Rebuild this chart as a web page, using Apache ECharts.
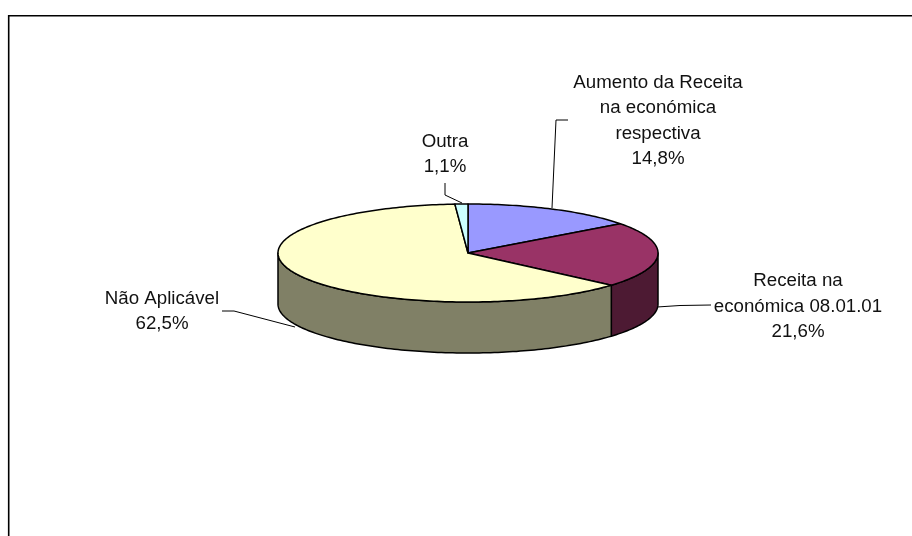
<!DOCTYPE html>
<html><head><meta charset="utf-8">
<style>html,body{margin:0;padding:0;background:#fff}#c{width:912px;height:536px}</style>
<script src="https://cdn.jsdelivr.net/npm/echarts@6/dist/echarts.min.js"></script>
</head><body><div id="c"></div>
<script>
const categories = ['Aumento da Receita\nna económica\nrespectiva', 'Receita na\neconómica 08.01.01', 'Não Aplicável', 'Outra'];
const sliceValues = [14.8, 21.6, 62.5, 1.1];
const topColors = ['#9999FF', '#993366', '#FFFFCC', '#CCFFFF'];
const sideColors = ['#4D4D80', '#4D1A33', '#808066', '#668080'];

const CX = 468, CY = 253, RX = 190, RY = 49, DEPTH = 51;
const labelPos = [[658, 121], [798, 306.5], [162, 311.5], [445, 154.5]];
const leaders = [
  [[568, 120], [556, 120], [552, 208]],
  [[711, 305], [680, 305.5], [657, 307]],
  [[222, 311], [234, 311], [295, 327]],
  [[445, 183], [445, 195], [462, 203]]
];

const total = sliceValues.reduce((a, b) => a + b, 0);
let acc = 0;
const spans = sliceValues.map(v => { const s = acc; acc += v; return [s / total * 2 * Math.PI, acc / total * 2 * Math.PI]; });
const pt = (a, dy) => [CX + RX * Math.sin(a), CY - RY * Math.cos(a) + (dy || 0)];
function arc(a0, a1, dy) {
  const n = Math.max(2, Math.ceil((a1 - a0) / 0.02));
  const out = [];
  for (let i = 0; i <= n; i++) out.push(pt(a0 + (a1 - a0) * i / n, dy));
  return out;
}
const edge = { stroke: '#000', lineWidth: 1.5, lineJoin: 'round' };

function renderWall(params, api) {
  const i = api.value(0);
  const a0 = Math.max(spans[i][0], Math.PI / 2), a1 = Math.min(spans[i][1], 1.5 * Math.PI);
  if (a1 <= a0) return { type: 'group', children: [] };
  const top = arc(a0, a1, 0), bottom = arc(a0, a1, DEPTH).reverse();
  return { type: 'polygon', shape: { points: top.concat(bottom) }, style: Object.assign({ fill: sideColors[i] }, edge) };
}
function renderTop(params, api) {
  const i = api.value(0);
  return { type: 'polygon', shape: { points: [[CX, CY]].concat(arc(spans[i][0], spans[i][1], 0)) }, style: Object.assign({ fill: topColors[i] }, edge) };
}
function renderLabel(params, api) {
  const i = api.value(0);
  return { type: 'group', children: [
    { type: 'polyline', shape: { points: leaders[i] }, style: { stroke: '#000', lineWidth: 1, fill: null } },
    { type: 'text', x: labelPos[i][0], y: labelPos[i][1], style: {
      text: categories[i] + '\n' + sliceValues[i].toFixed(1).replace('.', ',') + '%',
      font: '18.7px "Liberation Sans", Arial, sans-serif', lineHeight: 25.3, fill: '#111',
      align: 'center', verticalAlign: 'middle' } }
  ] };
}
const rows = sliceValues.map((v, i) => [i, v]);
const chart = echarts.init(document.getElementById('c'), null, { renderer: 'canvas' });
chart.setOption({
  animation: false,
  backgroundColor: '#fff',
  graphic: [{ type: 'polyline', silent: true, shape: { points: [[8.7, 536], [8.7, 15.7], [912, 15.7]] }, style: { stroke: '#000', lineWidth: 1.6, fill: null } }],
  series: [
    { type: 'custom', coordinateSystem: 'none', data: rows, renderItem: renderWall, silent: true, z: 1 },
    { type: 'custom', coordinateSystem: 'none', data: rows, renderItem: renderTop, silent: true, z: 2 },
    { type: 'custom', coordinateSystem: 'none', data: rows, renderItem: renderLabel, silent: true, z: 3 }
  ]
});
</script></body></html>
